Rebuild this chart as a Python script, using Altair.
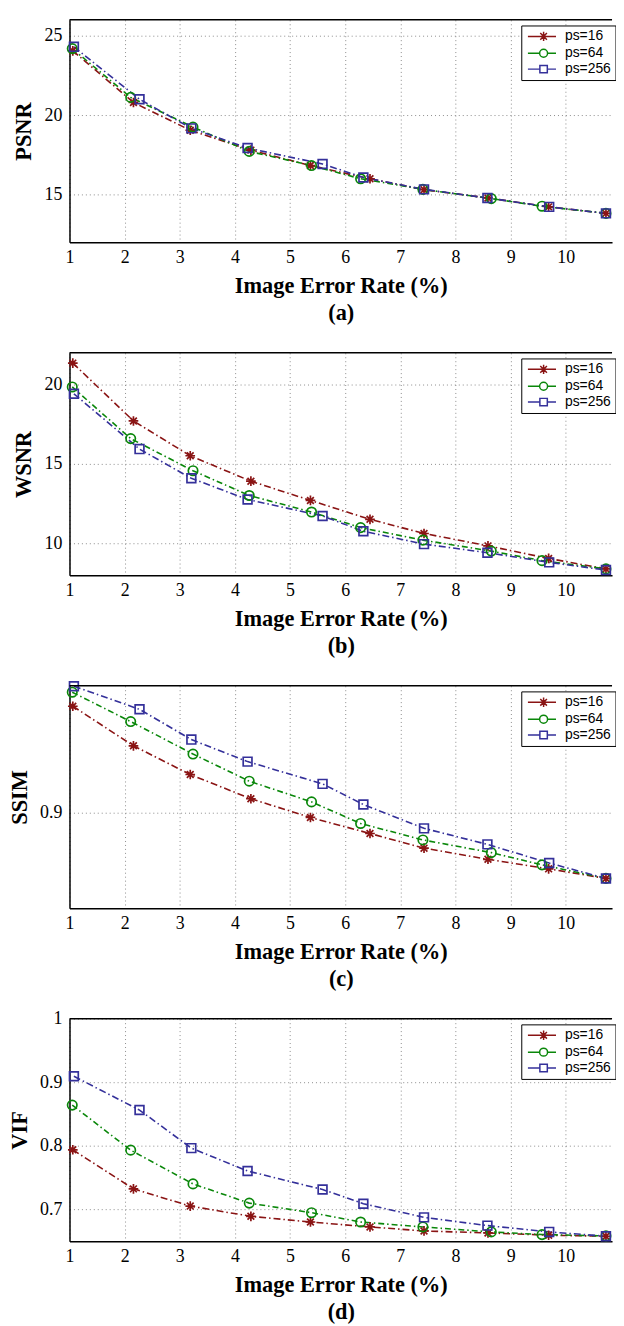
import altair as alt
import pandas as pd

series = ["ps=16", "ps=64", "ps=256"]
x_ticks = [1, 2, 3, 4, 5, 6, 7, 8, 9, 10]

# x positions (image error rate, %) per series
x_ps16 = [1.06, 2.16, 3.19, 4.29, 5.37, 6.45, 7.43, 8.59, 9.69, 10.73]
x_ps64 = [1.05, 2.11, 3.24, 4.26, 5.39, 6.28, 7.41, 8.65, 9.57, 10.73]
x_ps256 = [1.08, 2.27, 3.21, 4.23, 5.59, 6.33, 7.43, 8.58, 9.70, 10.73]

psnr_16 = [24.05, 20.80, 19.05, 17.80, 16.83, 16.00, 15.31, 14.79, 14.23, 13.82]
psnr_64 = [24.19, 21.12, 19.25, 17.72, 16.83, 16.00, 15.33, 14.75, 14.27, 13.82]
psnr_256 = [24.30, 21.00, 19.17, 17.93, 16.93, 16.08, 15.33, 14.79, 14.23, 13.82]

wsnr_16 = [21.35, 17.71, 15.52, 13.92, 12.71, 11.52, 10.63, 9.85, 9.06, 8.40]
wsnr_64 = [19.85, 16.60, 14.58, 13.02, 11.98, 11.00, 10.21, 9.52, 8.92, 8.40]
wsnr_256 = [19.42, 15.94, 14.10, 12.77, 11.73, 10.77, 9.96, 9.42, 8.81, 8.33]

ssim_16 = [0.9478, 0.9300, 0.9171, 0.9062, 0.8978, 0.8906, 0.8840, 0.8790, 0.8747, 0.8704]
ssim_64 = [0.9541, 0.9409, 0.9263, 0.9141, 0.9048, 0.8951, 0.8877, 0.8820, 0.8765, 0.8704]
ssim_256 = [0.9568, 0.9464, 0.9328, 0.9229, 0.9129, 0.9036, 0.8929, 0.8857, 0.8773, 0.8704]

vif_16 = [0.7938, 0.7323, 0.7052, 0.6891, 0.6802, 0.6724, 0.6661, 0.6630, 0.6594, 0.6578]
vif_64 = [0.8641, 0.7932, 0.7401, 0.7099, 0.6948, 0.6802, 0.6724, 0.6646, 0.6604, 0.6583]
vif_256 = [0.9094, 0.8563, 0.7964, 0.7604, 0.7313, 0.7089, 0.6875, 0.6745, 0.6646, 0.6578]

xs = {"ps=16": x_ps16, "ps=64": x_ps64, "ps=256": x_ps256}
metrics = {
    "PSNR": {"ps=16": psnr_16, "ps=64": psnr_64, "ps=256": psnr_256},
    "WSNR": {"ps=16": wsnr_16, "ps=64": wsnr_64, "ps=256": wsnr_256},
    "SSIM": {"ps=16": ssim_16, "ps=64": ssim_64, "ps=256": ssim_256},
    "VIF": {"ps=16": vif_16, "ps=64": vif_64, "ps=256": vif_256},
}

rows = []
for m, d in metrics.items():
    for s in series:
        for xv, yv in zip(xs[s], d[s]):
            rows.append({"metric": m, "series": s, "x": xv, "value": yv})
df = pd.DataFrame(rows)

colors = ["#8a1414", "#0a870a", "#34309a"]
dashes = [[7, 3, 1.5, 3], [6, 3, 1.5, 3], [7, 3, 1.5, 3]]
asterisk = "M0,-1 L0,1 M-1,0 L1,0 M-0.7,-0.7 L0.7,0.7 M-0.7,0.7 L0.7,-0.7"
shapes = [asterisk, "circle", "square"]
sizes = [95, 90, 78]

leg_paths = [
    "M-0.86,0 L4.8,0 M2.3,-0.95 L2.3,0.95 M1.35,0 L3.25,0 M1.63,-0.67 L2.97,0.67 M1.63,0.67 L2.97,-0.67",
    "M-0.86,0 L1.5,0 M3.1,0 L4.8,0 M3.1,0 A0.8,0.8 0 1,1 1.5,0 A0.8,0.8 0 1,1 3.1,0",
    "M-0.86,0 L1.55,0 M3.05,0 L4.8,0 M1.55,-0.75 L3.05,-0.75 L3.05,0.75 L1.55,0.75 Z",
]

panels_cfg = [
    ("PSNR", [12, 26], [15, 20, 25], "d", "(a)"),
    ("WSNR", [8, 22], [10, 15, 20], "d", "(b)"),
    ("SSIM", [0.857, 0.957], [0.9], ".1f", "(c)"),
    ("VIF", [0.65, 1.0], [0.7, 0.8, 0.9, 1.0], ".1~f", "(d)"),
]

W = 547
H = 224.3
X_MAX = 10.84

frame_df = pd.DataFrame({"k": [0]})


def make_panel(metric, ydom, yticks, fmt, caption):
    base = alt.Chart(df).transform_filter(alt.datum.metric == metric)
    X = alt.X("x:Q", scale=alt.Scale(domain=[1, X_MAX], nice=False, zero=False),
              axis=alt.Axis(orient="bottom", values=x_ticks, format="d",
                            title=["Image Error Rate (%)", caption], labelFlush=False,
                            domain=True, domainColor="black", domainWidth=1.5))
    Y = alt.Y("value:Q", scale=alt.Scale(domain=ydom, nice=False, zero=False),
              axis=alt.Axis(orient="left", values=yticks, format=fmt, title=metric,
                            labelFlush=False,
                            domain=True, domainColor="black", domainWidth=1.5))

    layers = []
    for s, c, dsh in zip(series, colors, dashes):
        layers.append(
            base.transform_filter(alt.datum.series == s)
            .mark_line(color=c, strokeDash=dsh, strokeWidth=1.6)
            .encode(x=X, y=Y)
        )
    for s, c, shp, sz in zip(series, colors, shapes, sizes):
        layers.append(
            base.transform_filter(alt.datum.series == s)
            .mark_point(shape=shp, size=sz, color=c, filled=False, strokeWidth=1.7, opacity=1)
            .encode(x=X, y=Y)
        )
    # top border of the axes box (right edge falls outside the picture)
    layers.append(
        alt.Chart(frame_df).mark_rule(color="black", strokeWidth=1.5)
        .encode(x=alt.value(0), x2=alt.value(W), y=alt.value(0))
    )
    leg = alt.Legend(
        title=None, orient="none", legendX=455.5, legendY=5.7, padding=4,
        strokeColor="black", fillColor="white",
        labelFont="Liberation Sans", labelFontSize=14, labelColor="black",
        labelOffset=26, rowPadding=2, symbolSize=100, symbolStrokeWidth=1.5,
        labelLimit=200,
    )
    layers.append(
        base.transform_filter("false")
        .mark_point(filled=False, size=100, strokeWidth=1.5, opacity=1)
        .encode(
            x=X, y=Y,
            color=alt.Color("series:N", scale=alt.Scale(domain=series, range=colors), legend=leg),
            shape=alt.Shape("series:N", scale=alt.Scale(domain=series, range=leg_paths), legend=leg),
        )
    )
    return alt.layer(*layers).properties(width=W, height=H)


panels = [make_panel(*p) for p in panels_cfg]

chart = (
    alt.vconcat(*panels, spacing=110.7, bounds="flush")
    .resolve_scale(color="independent", shape="independent")
    .resolve_legend(color="independent", shape="independent")
    .properties(padding={"left": 0, "top": 5.5, "right": 0, "bottom": 0})
    .configure_view(strokeOpacity=0)
    .configure_axis(
        grid=True, gridColor="#8c8c8c", gridDash=[1, 3], gridWidth=1,
        domain=False, ticks=False, tickSize=0,
        labelFont="Liberation Serif", labelFontSize=18, labelColor="black",
        titleFont="Liberation Serif", titleFontSize=22.5, titleFontWeight="bold",
        titleColor="black",
    )
    .configure_axisX(labelPadding=6.5, titlePadding=8.6, titleLineHeight=26.5, labelAngle=0)
    .configure_axisY(labelPadding=7.7, titlePadding=8.3)
)

chart.save("out.html", embed_options={"renderer": "svg", "actions": False})
